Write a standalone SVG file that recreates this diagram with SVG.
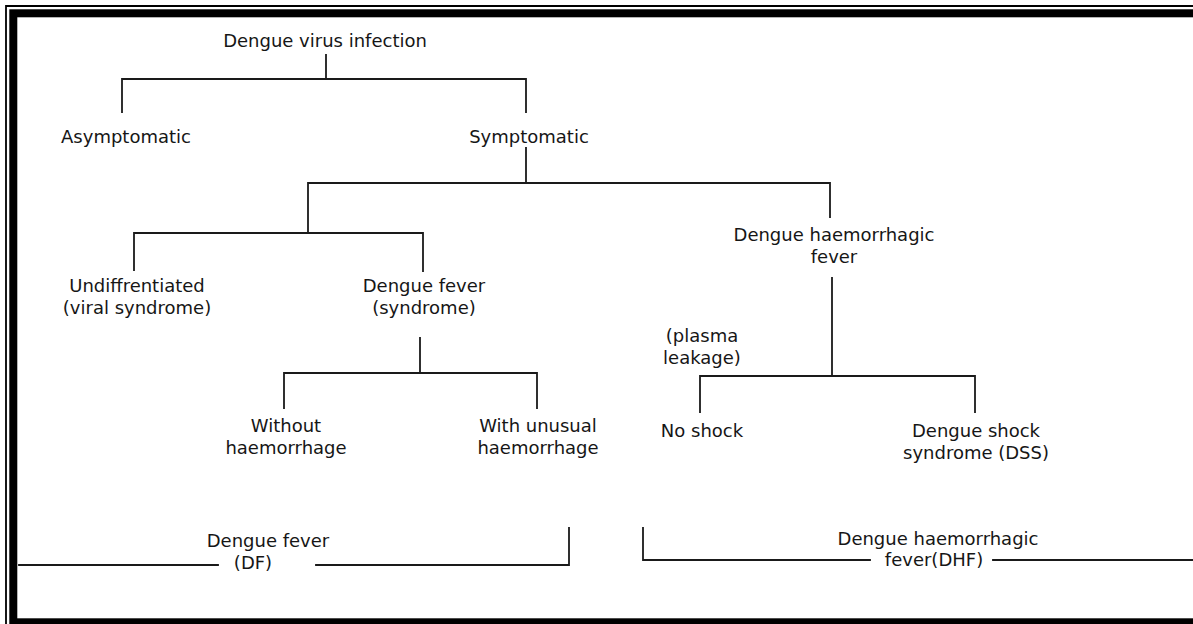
<svg xmlns="http://www.w3.org/2000/svg" width="1193" height="624" viewBox="0 0 1193 624">
<style>
  text { font-family: "DejaVu Sans", "Liberation Sans", sans-serif; font-size: 18px; fill: #161616; text-anchor: middle; }
  .ln { fill: none; stroke: #1a1a1a; stroke-width: 1.8; stroke-linecap: square; }
  .thin { fill: none; stroke: #000; stroke-width: 1.8; }
  .thick { fill: none; stroke: #000; stroke-width: 8; }
</style>
<rect x="0" y="0" width="1193" height="624" fill="#fff"/>
<g id="frame">
  <path class="thin" d="M6,624 V6 H1193"/>
  <rect class="thick" x="13.3" y="13.3" width="1200" height="609"/>
</g>
<g id="connectors">
  <path class="ln" d="M326,55 V79 M122,112 V79 H526 V112"/>
  <path class="ln" d="M526,148 V183 M308,183 H830 M308,183 V233 M830,183 V217"/>
  <path class="ln" d="M134,270 V233 H423 V271"/>
  <path class="ln" d="M420,338 V373 M284,408 V373 H537 V408"/>
  <path class="ln" d="M832,278 V376 M700,412 V376 H975 V412"/>
  <path class="ln" d="M19,565 H218 M316,565 H569 V528"/>
  <path class="ln" d="M643,528 V560 H870 M993,560 H1193"/>
</g>
<g id="n-root"><text x="325" y="47">Dengue virus infection</text></g>
<g id="n-asymptomatic"><text x="126" y="143">Asymptomatic</text></g>
<g id="n-symptomatic"><text x="529" y="143">Symptomatic</text></g>
<g id="n-undiff"><text x="137" y="292">Undiffrentiated</text><text x="137" y="314">(viral syndrome)</text></g>
<g id="n-df-syndrome"><text x="424" y="292">Dengue fever</text><text x="424" y="314">(syndrome)</text></g>
<g id="n-dhf"><text x="834" y="241">Dengue haemorrhagic</text><text x="834" y="263">fever</text></g>
<g id="n-plasma"><text x="702" y="342">(plasma</text><text x="702" y="364">leakage)</text></g>
<g id="n-without"><text x="286" y="432">Without</text><text x="286" y="454">haemorrhage</text></g>
<g id="n-with"><text x="538" y="432">With unusual</text><text x="538" y="454">haemorrhage</text></g>
<g id="n-noshock"><text x="702" y="437">No shock</text></g>
<g id="n-dss"><text x="976" y="437">Dengue shock</text><text x="976" y="459">syndrome (DSS)</text></g>
<g id="n-df"><text x="268" y="547">Dengue fever</text><text x="253" y="569">(DF)</text></g>
<g id="n-dhf-group"><text x="938" y="545">Dengue haemorrhagic</text><text x="934" y="566">fever(DHF)</text></g>
</svg>
